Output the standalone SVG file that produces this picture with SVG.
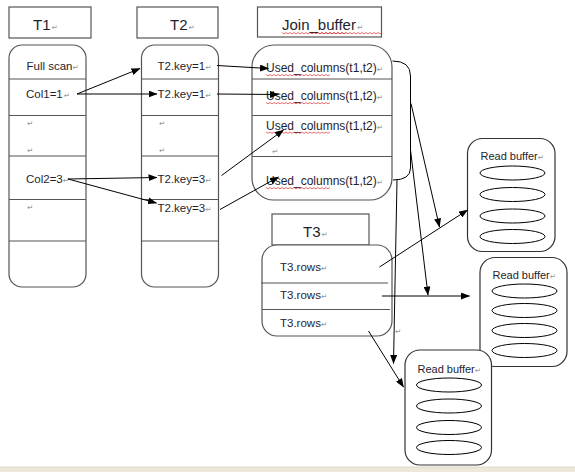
<svg xmlns="http://www.w3.org/2000/svg" xmlns:xlink="http://www.w3.org/1999/xlink" width="575" height="472" viewBox="0 0 575 472">
<style>
.box{fill:#fff;stroke:#555;stroke-width:1.2}
.row{stroke:#555;stroke-width:1.1}
.t{font-family:"Liberation Sans",Arial,sans-serif;fill:#1e1e2e}
.h{font-size:15px}
.s{font-size:11.5px}
.u{font-size:12px}
.pm{font-family:"DejaVu Sans",sans-serif;font-size:7.5px;fill:#999}
.ar{stroke:#000;stroke-width:1;fill:none;marker-end:url(#ah)}
.ln{stroke:#000;stroke-width:1;fill:none}
.el{fill:#fff;stroke:#000;stroke-width:1}
.sq{fill:none;stroke:#e03030;stroke-width:0.7}
</style>
<defs>
<marker id="ah" markerWidth="9" markerHeight="7" refX="8.5" refY="3.5" orient="auto" markerUnits="userSpaceOnUse">
<path d="M0,0 L9,3.5 L0,7 z" fill="#000"/>
</marker>
<path id="squig" class="sq" d="M0,0 l2,1.4 l2,-1.4 l2,1.4 l2,-1.4 l2,1.4 l2,-1.4 l2,1.4 l2,-1.4 l2,1.4 l2,-1.4 l2,1.4 l2,-1.4 l2,1.4 l2,-1.4 l2,1.4 l2,-1.4 l2,1.4 l2,-1.4 l2,1.4 l2,-1.4 l2,1.4 l2,-1.4 l2,1.4 l2,-1.4 l2,1.4 l2,-1.4 l2,1.4 l2,-1.4 l2,1.4 l2,-1.4 l2,1.4 l2,-1.4"/>
</defs>
<rect width="575" height="472" fill="#fff"/>

<g id="T1-header">
<rect class="box" x="9" y="7" width="82" height="31"/>
<text class="t h" x="33" y="30">T1<tspan class="pm" dx="1">↵</tspan></text>
</g>
<g id="T1">
<rect class="box" x="9" y="45" width="77" height="242" rx="13"/>
<line class="row" x1="9" y1="79" x2="86" y2="79"/>
<line class="row" x1="9" y1="115.5" x2="86" y2="115.5"/>
<line class="row" x1="9" y1="156" x2="86" y2="156"/>
<line class="row" x1="9" y1="199.5" x2="86" y2="199.5"/>
<line class="row" x1="9" y1="241" x2="86" y2="241"/>
<text class="t s" x="26.5" y="70">Full scan<tspan class="pm">↵</tspan></text>
<text class="t s" x="26" y="98">Col1=1<tspan class="pm" dx="1">↵</tspan></text>
<text class="pm" x="27" y="126">↵</text>
<text class="pm" x="27" y="153">↵</text>
<text class="t s" x="26" y="183">Col2=3<tspan class="pm">↵</tspan></text>
<text class="pm" x="27" y="210">↵</text>
</g>

<g id="T2-header">
<rect class="box" x="137" y="7" width="81" height="31"/>
<text class="t h" x="170" y="30">T2<tspan class="pm" dx="1">↵</tspan></text>
</g>
<g id="T2">
<rect class="box" x="141.5" y="45" width="77" height="242" rx="13"/>
<line class="row" x1="141.5" y1="79" x2="218.5" y2="79"/>
<line class="row" x1="141.5" y1="115.5" x2="218.5" y2="115.5"/>
<line class="row" x1="141.5" y1="156" x2="218.5" y2="156"/>
<line class="row" x1="141.5" y1="199.5" x2="218.5" y2="199.5"/>
<line class="row" x1="141.5" y1="241" x2="218.5" y2="241"/>
<text class="t s" x="157.5" y="70">T2.key=1<tspan class="pm">↵</tspan></text>
<text class="t s" x="157.5" y="98">T2.key=1<tspan class="pm">↵</tspan></text>
<text class="pm" x="159" y="126">↵</text>
<text class="pm" x="159" y="153">↵</text>
<text class="t s" x="157.5" y="183">T2.key=3<tspan class="pm">↵</tspan></text>
<text class="t s" x="157.5" y="212">T2.key=3<tspan class="pm">↵</tspan></text>
</g>

<g id="Join_buffer-header">
<rect class="box" x="257.5" y="7" width="124" height="30"/>
<text class="t h" x="282" y="29.5">Join_buffer<tspan class="pm" dx="1">↵</tspan></text>
<use xlink:href="#squig" x="282" y="32.5"/>
<use xlink:href="#squig" x="318" y="32.5"/>
</g>
<g id="Join_buffer">
<rect class="box" x="252" y="45" width="140" height="155" rx="22"/>
<line class="row" x1="252" y1="79" x2="392" y2="79"/>
<line class="row" x1="252" y1="115.5" x2="392" y2="115.5"/>
<line class="row" x1="252" y1="156.5" x2="392" y2="156.5"/>
<text class="t u" x="266" y="72">Used_columns(t1,t2)<tspan class="pm">↵</tspan></text>
<text class="t u" x="266" y="100">Used_columns(t1,t2)<tspan class="pm">↵</tspan></text>
<text class="t u" x="266" y="129.5">Used_columns(t1,t2)<tspan class="pm">↵</tspan></text>
<text class="pm" x="272" y="154">↵</text>
<text class="t u" x="266" y="185">Used_columns(t1,t2)<tspan class="pm">↵</tspan></text>
<use xlink:href="#squig" x="266" y="74.5"/>
<use xlink:href="#squig" x="266" y="102.5"/>
<use xlink:href="#squig" x="266" y="132"/>
<use xlink:href="#squig" x="266" y="187.5"/>
</g>

<g id="T3-header">
<rect class="box" x="272" y="214" width="97" height="31"/>
<text class="t h" x="303" y="237">T3<tspan class="pm" dx="1">↵</tspan></text>
</g>
<g id="T3">
<rect class="box" x="262" y="245" width="130" height="91" rx="15"/>
<line class="row" x1="261" y1="283" x2="388" y2="283"/>
<line class="row" x1="262" y1="309.5" x2="390" y2="309.5"/>
<text class="t s" x="280" y="271">T3.rows<tspan class="pm">↵</tspan></text>
<text class="t s" x="280" y="299">T3.rows<tspan class="pm">↵</tspan></text>
<text class="t s" x="280" y="327">T3.rows<tspan class="pm">↵</tspan></text>
</g>
<text class="pm" x="395" y="334">↵</text>

<g id="ReadBuffer1">
<rect class="box" x="467.5" y="138.5" width="87.5" height="113" rx="15" style="stroke:#333"/>
<text class="t" x="480.5" y="159.5" style="font-size:11px">Read buffer<tspan class="pm">↵</tspan></text>
<ellipse class="el" cx="512.5" cy="173" rx="32.5" ry="7"/>
<ellipse class="el" cx="512.5" cy="194.5" rx="32.5" ry="7"/>
<ellipse class="el" cx="512.5" cy="216" rx="32.5" ry="7"/>
<ellipse class="el" cx="512.5" cy="236.5" rx="32.5" ry="7"/>
</g>
<g id="ReadBuffer2">
<rect class="box" x="480" y="257.5" width="87" height="109" rx="15" style="stroke:#333"/>
<text class="t" x="492.5" y="279" style="font-size:11px">Read buffer<tspan class="pm">↵</tspan></text>
<ellipse class="el" cx="524.5" cy="291" rx="32.5" ry="7"/>
<ellipse class="el" cx="524.5" cy="310.5" rx="32.5" ry="7"/>
<ellipse class="el" cx="524.5" cy="330.5" rx="32.5" ry="7"/>
<ellipse class="el" cx="524.5" cy="350.5" rx="32.5" ry="7"/>
</g>
<g id="ReadBuffer3">
<rect class="box" x="405" y="350" width="86.5" height="115" rx="15" style="stroke:#333"/>
<text class="t" x="417.5" y="373" style="font-size:11px">Read buffer<tspan class="pm">↵</tspan></text>
<ellipse class="el" cx="449" cy="385" rx="32.5" ry="7"/>
<ellipse class="el" cx="449" cy="406" rx="32.5" ry="7"/>
<ellipse class="el" cx="449" cy="427.5" rx="32.5" ry="7"/>
<ellipse class="el" cx="449" cy="447.5" rx="32.5" ry="7"/>
</g>

<g id="connectors">
<line class="ar" x1="77" y1="94" x2="140" y2="68.5"/>
<line class="ar" x1="77" y1="94" x2="157" y2="94"/>
<line class="ar" x1="68" y1="179" x2="157" y2="177.5"/>
<line class="ar" x1="68" y1="179" x2="156.5" y2="203"/>
<line class="ar" x1="217" y1="65.5" x2="268.5" y2="68.5"/>
<line class="ar" x1="217" y1="94" x2="278.5" y2="94.5"/>
<line class="ar" x1="221.5" y1="175.5" x2="283.5" y2="130"/>
<line class="ar" x1="220" y1="209.5" x2="278.5" y2="177"/>
<path class="ln" d="M392.5,61 Q410.5,61 410.5,76 L410.5,168 Q410.5,180 393,180"/>
<line class="ar" x1="411" y1="103.5" x2="439.5" y2="227"/>
<line class="ar" x1="410.5" y1="150" x2="428" y2="295"/>
<line class="ar" x1="397" y1="180" x2="393.5" y2="363.5"/>
<line class="ar" x1="379.5" y1="267" x2="467.5" y2="210"/>
<line class="ar" x1="382" y1="296" x2="469.5" y2="296"/>
<line class="ar" x1="368.5" y1="331" x2="403.5" y2="387"/>
</g>

<rect x="0" y="467" width="575" height="5" fill="#ece9d8"/>
<line x1="0" y1="467" x2="575" y2="467" stroke="#dcd8c8" stroke-width="1"/>
</svg>
